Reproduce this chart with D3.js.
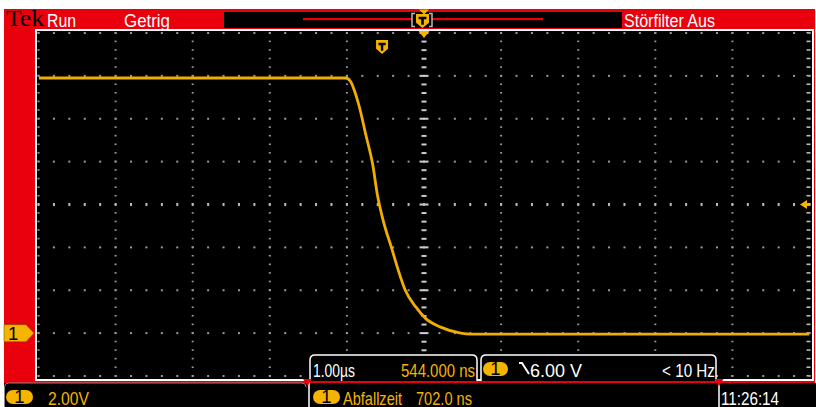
<!DOCTYPE html>
<html lang="de">
<head>
<meta charset="UTF-8">
<title>Abfallzeit</title>
<script src="https://d3js.org/d3.v7.min.js"></script>
<style>
  body { margin: 0; background: #fff; }
  svg { display: block; }
  .lbl { font-family: "Liberation Sans Narrow", "Arial Narrow", "Liberation Sans", Arial, sans-serif; font-size: 18.5px; }
</style>
</head>
<body>
<div id="scope"></div>
<script>
// Messwerte: Zeit relativ zum Triggerpunkt (µs), Spannung (V)
const timeUs = [-4.45, -0.47, -0.41, -0.36, -0.30, -0.21, -0.12, -0.06, 0.02, 0.12, 0.21, 0.30, 0.44, 0.56, 0.76, 1.02, 1.15, 5.54];
const volts  = [11.9, 11.9, 11.75, 11.33, 10.63, 9.24, 7.84, 6.44, 5.18, 4.01, 2.94, 2.01, 1.21, 0.70, 0.28, 0.0, -0.05, -0.05];

// Einstellungen / Texte
const timePerDiv = 1.0;      // µs
const horizPos = 0.544;      // µs
const voltsPerDiv = 2.0;
const trigLevel = 6.0;
const topLabels = ["Run", "Getrig", "Störfilter Aus"];
const scaleLabels = ["1.00\u00b5s", "544.000 ns", "6.00 V", "< 10 Hz"];
const bottomLabels = ["2.00V", "Abfallzeit", "702.0 ns", "11:26:14"];

const W = 816, H = 407;
const red = "#e8000d", yel = "#f5b400", trace = "#f0ae00";

const svg = d3.select("#scope").append("svg").attr("width", W).attr("height", H);

// Zeit- und Spannungsachse (10 x 8 Teilungen)
const x = d3.scaleLinear().domain([horizPos - 5 * timePerDiv, horizPos + 5 * timePerDiv]).range([38.5, 809.5]);
const y = d3.scaleLinear().domain([-voltsPerDiv, 7 * voltsPerDiv]).range([376, 33]);

// Rahmen
svg.append("rect").attr("x", 4).attr("y", 9).attr("width", 811).attr("height", 374).attr("fill", red);
svg.append("rect").attr("x", 4).attr("y", 383).attr("width", 812).attr("height", 24).attr("fill", "#000");
svg.append("rect").attr("x", 36).attr("y", 30).attr("width", 777).attr("height", 350)
  .attr("fill", "#000").attr("stroke", "#fff").attr("stroke-width", 2);

// Raster
const grid = svg.append("g");
const centerT = horizPos;
const majT = d3.range(-5, 6).map(k => horizPos + k * timePerDiv);
const minT = d3.range(-25, 26).map(k => horizPos + k * timePerDiv / 5);
const majV = d3.range(-1, 8).map(k => k * voltsPerDiv);
const minV = d3.range(-5, 36).map(k => k * voltsPerDiv / 5);

majT.forEach((t, i) => {
  if (i === 5) return;
  grid.selectAll(null).data(minV).enter().append("rect")
    .attr("x", i === 10 ? x(t) - 3 : x(t) - 1).attr("y", v => y(v) - 1)
    .attr("width", i === 10 ? 4 : 2).attr("height", 1.6)
    .attr("fill", i === 10 ? "#bbb" : "#999");
});
majV.forEach(v => {
  if (v === trigLevel) return;
  grid.selectAll(null).data(minT).enter().append("rect")
    .attr("x", t => x(t) - 1).attr("y", y(v) - 1).attr("width", 2).attr("height", 2)
    .attr("fill", "#999");
});
// Mittelachsen mit Teilstrichen
grid.selectAll(null).data(minV).enter().append("rect")
  .attr("x", v => x(centerT) - (v % voltsPerDiv === 0 ? 4.5 : 2.5))
  .attr("y", v => y(v) - 1)
  .attr("width", v => v % voltsPerDiv === 0 ? 9 : 5).attr("height", 2).attr("fill", "#ccc");
grid.selectAll(null).data(minT).enter().append("rect")
  .attr("x", t => x(t) - 1)
  .attr("y", y(trigLevel) - 1.5).attr("width", 2).attr("height", 3).attr("fill", "#bbb");

// Signal
const pts = timeUs.map((t, i) => [t, volts[i]]);
svg.append("path").datum(pts)
  .attr("fill", "none").attr("stroke", trace).attr("stroke-width", 2.8)
  .attr("d", d3.line().x(d => x(d[0])).y(d => y(d[1])).curve(d3.curveMonotoneX));

// Triggerpunkt-Marker im Raster
function shield(g, cx, top, w, h) {
  g.append("path").attr("fill", yel)
    .attr("d", `M${cx - w / 2},${top} h${w} v${h * 0.62} l${-w / 2},${h * 0.38} l${-w / 2},${-h * 0.38} z`);
  g.append("path").attr("fill", "#000")
    .attr("d", `M${cx - w * 0.3},${top + h * 0.2} h${w * 0.6} v${h * 0.17} h${-w * 0.2} v${h * 0.4} h${-w * 0.2} v${-h * 0.4} h${-w * 0.2} z`);
}
shield(svg.append("g"), x(0), 40, 12, 14);

// Expansionspunkt-Dreieck oben
svg.append("path").attr("fill", yel)
  .attr("d", `M${x(centerT) - 5.5},31 h11 l-5.5,7 z`);

// Triggerpegel rechts
svg.append("path").attr("fill", yel)
  .attr("d", `M800,${y(trigLevel)} l7,-4.5 v3 h3 v3 h-3 v3 z`);

// Masse-Marker links
const gnd = svg.append("g");
gnd.append("path").attr("fill", yel).attr("stroke", "#7a5a00").attr("stroke-width", 0.6)
  .attr("d", `M4,${y(0) - 8.5} h22 l8,8.5 l-8,8.5 h-22 z`);
gnd.append("text").attr("class", "lbl").attr("x", 8).attr("y", y(0) + 6.5)
  .attr("fill", "#000").attr("font-size", 18).text("1");

// Kopfzeile
svg.append("text").attr("x", 6).attr("y", 26)
  .attr("font-family", "'Liberation Serif', 'Times New Roman', serif").attr("font-size", 23)
  .attr("textLength", 38).attr("lengthAdjust", "spacingAndGlyphs").attr("fill", "#000").text("Tek");
const topPos = [[47, 29], [124, 46], [624, 91]];
topLabels.forEach((s, i) => {
  svg.append("text").attr("class", "lbl").attr("x", topPos[i][0]).attr("y", 26.5)
    .attr("fill", "#fff").attr("textLength", topPos[i][1]).attr("lengthAdjust", "spacingAndGlyphs").text(s);
});
svg.append("rect").attr("x", 224).attr("y", 12).attr("width", 398).attr("height", 16).attr("fill", "#000");
svg.append("rect").attr("x", 303).attr("y", 18).attr("width", 240).attr("height", 2.2).attr("fill", red);
svg.append("rect").attr("x", 412).attr("y", 13).attr("width", 20).attr("height", 14).attr("fill", "#000");
svg.append("path").attr("fill", "none").attr("stroke", "#bbb").attr("stroke-width", 1.5)
  .attr("d", "M415,13.5 h-3 v13 h3 M429,13.5 h3 v13 h-3");
svg.append("path").attr("fill", yel).attr("d", `M${x(centerT) - 5},9.5 h10 l-5,5 z`);
shield(svg.append("g"), x(centerT) - 1.5, 14, 13, 14);

// Horizontal- und Triggeranzeige
function box(x0, w) {
  svg.append("path").attr("fill", "#000").attr("stroke", "#fff").attr("stroke-width", 1.5)
    .attr("d", `M${x0},381 V360 q0,-5 5,-5 H${x0 + w - 5} q5,0 5,5 V381`);
}
box(310, 167);
box(481, 235);
svg.append("text").attr("class", "lbl").attr("x", 313).attr("y", 377).attr("fill", "#fff")
  .attr("textLength", 42).attr("lengthAdjust", "spacingAndGlyphs").text(scaleLabels[0]);
svg.append("text").attr("class", "lbl").attr("x", 401).attr("y", 377).attr("fill", yel)
  .attr("textLength", 74).attr("lengthAdjust", "spacingAndGlyphs").text(scaleLabels[1]);

function badge(x0, yc, w) {
  svg.append("rect").attr("x", x0).attr("y", yc - 7).attr("width", w).attr("height", 14)
    .attr("rx", 7).attr("fill", yel);
  svg.append("text").attr("class", "lbl").attr("x", x0 + w / 2).attr("y", yc + 6)
    .attr("text-anchor", "middle").attr("fill", "#000").attr("font-size", 17).text("1");
}
badge(483, 369, 25);
svg.append("path").attr("stroke", "#fff").attr("stroke-width", 2).attr("fill", "none")
  .attr("d", "M519,363 h3 l7,11");
svg.append("text").attr("class", "lbl").attr("x", 530).attr("y", 377).attr("fill", "#fff")
  .attr("textLength", 52).attr("lengthAdjust", "spacingAndGlyphs").text(scaleLabels[2]);
svg.append("text").attr("class", "lbl").attr("x", 662).attr("y", 377).attr("fill", "#fff")
  .attr("textLength", 53).attr("lengthAdjust", "spacingAndGlyphs").text(scaleLabels[3]);

// Fußzeile
svg.append("path").attr("fill", "none").attr("stroke", "#888").attr("stroke-width", 1)
  .attr("d", "M4.5,407 V387 q0,-4 4,-4 H302 q4,0 4,4");
svg.append("path").attr("fill", "none").attr("stroke", "#fff").attr("stroke-width", 1.5)
  .attr("d", "M309,407 V381 M719,407 V381");
svg.append("path").attr("fill", red).attr("d", "M303,379 h9 l-4.5,7 z M714.5,379 h9 l-4.5,7 z");
badge(6, 397, 27);
svg.append("text").attr("class", "lbl").attr("x", 48).attr("y", 404.5).attr("fill", yel)
  .attr("textLength", 41).attr("lengthAdjust", "spacingAndGlyphs").text(bottomLabels[0]);
badge(313, 397, 27);
svg.append("text").attr("class", "lbl").attr("x", 343).attr("y", 404.5).attr("fill", yel)
  .attr("textLength", 59).attr("lengthAdjust", "spacingAndGlyphs").text(bottomLabels[1]);
svg.append("text").attr("class", "lbl").attr("x", 416).attr("y", 404.5).attr("fill", yel)
  .attr("textLength", 56).attr("lengthAdjust", "spacingAndGlyphs").text(bottomLabels[2]);
svg.append("text").attr("class", "lbl").attr("x", 721).attr("y", 404.5).attr("fill", "#fff")
  .attr("textLength", 58).attr("lengthAdjust", "spacingAndGlyphs").text(bottomLabels[3]);
</script>
</body>
</html>
